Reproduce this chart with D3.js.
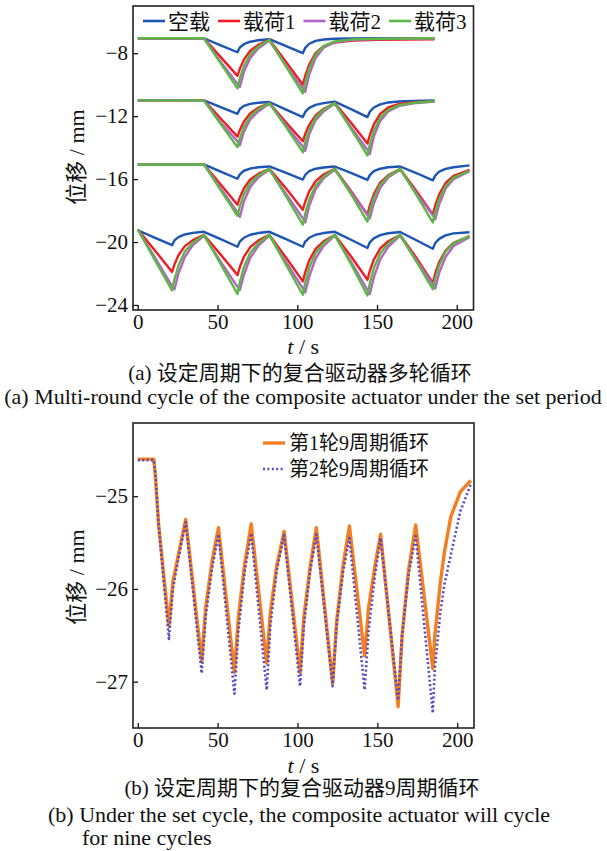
<!DOCTYPE html>
<html>
<head>
<meta charset="utf-8">
<script src="https://cdn.jsdelivr.net/npm/d3@7"></script>
<style>
  body { margin: 0; background: #fff; }
  svg { display: block; }
  text { font-family: "Liberation Serif", "Times New Roman", "Noto Sans CJK SC", serif; fill: #111; }
</style>
</head>
<body>
<svg id="chart" width="607" height="851"></svg>
<script>
// ---- panel (a): four rounds, four load cases each ----
var seriesNames = ['空载', '载荷1', '载荷2', '载荷3'];
var seriesColors = ['#1c55b3', '#ee1d24', '#b463c6', '#5bb844'];

var tA = [0, 41.5, 52, 62.5, 64, 66.5, 70.5, 75.5, 82.5, 93, 103.5, 105, 107.5, 111.5, 116.5, 123.5, 135, 150, 186];
var emptyA = [-7.05, -7.05, -7.5, -7.94, -7.64, -7.43, -7.27, -7.18, -7.11, -7.55, -8.0, -7.66, -7.4, -7.22, -7.13, -7.08, -7.06, -7.05, -7.05];
var load1A = [-7.05, -7.05, -8.25, -9.44, -8.98, -8.41, -7.84, -7.47, -7.15, -8.55, -10.0, -9.43, -8.72, -8.0, -7.55, -7.33, -7.2, -7.15, -7.12];
var load2A = [-7.05, -7.05, -8.55, -9.95, -10.15, -9.2, -8.3, -7.7, -7.2, -8.8, -10.25, -10.45, -9.35, -8.3, -7.65, -7.3, -7.15, -7.1, -7.07];
var load3A = [-7.05, -7.05, -8.65, -10.23, -9.6, -8.83, -8.07, -7.58, -7.15, -8.85, -10.55, -9.85, -8.98, -8.12, -7.55, -7.25, -7.12, -7.08, -7.05];

var tB = [0, 41.5, 52, 62.5, 64, 66.5, 70.5, 75.5, 82.5, 93, 103.5, 105, 107.5, 111.5, 116.5, 123.5, 134, 144, 145.5, 148, 152, 157, 164, 173, 186];
var emptyB = [-11.0, -11.0, -11.42, -11.85, -11.55, -11.35, -11.22, -11.15, -11.1, -11.58, -12.06, -11.73, -11.47, -11.28, -11.17, -11.08, -11.57, -12.06, -11.72, -11.45, -11.25, -11.13, -11.07, -11.03, -11.0];
var load1B = [-11.0, -11.0, -12.15, -13.3, -12.88, -12.35, -11.82, -11.47, -11.17, -12.4, -13.6, -13.12, -12.55, -11.95, -11.55, -11.17, -12.45, -13.74, -13.2, -12.53, -11.86, -11.45, -11.22, -11.12, -11.05];
var load2B = [-11.0, -11.0, -12.4, -13.6, -13.85, -13.0, -12.2, -11.7, -11.2, -12.6, -13.95, -14.2, -13.15, -12.25, -11.7, -11.2, -12.75, -14.15, -14.4, -13.3, -12.3, -11.7, -11.35, -11.18, -11.07];
var load3B = [-11.0, -11.0, -12.5, -13.97, -13.41, -12.71, -12.01, -11.56, -11.17, -12.7, -14.29, -13.65, -12.87, -12.1, -11.6, -11.17, -12.85, -14.5, -13.8, -12.95, -12.1, -11.6, -11.3, -11.15, -11.05];

var tC = [0, 41.5, 52, 62.5, 64, 66.5, 70.5, 75.5, 82.5, 93, 103.5, 105, 107.5, 111.5, 116.5, 123.5, 134, 144, 145.5, 148, 152, 157, 164.5, 175, 185, 186.5, 189, 193, 198, 208];
var emptyC = [-15.07, -15.07, -15.52, -15.98, -15.7, -15.47, -15.33, -15.25, -15.2, -15.6, -16.03, -15.74, -15.5, -15.34, -15.26, -15.2, -15.62, -16.05, -15.75, -15.5, -15.34, -15.25, -15.2, -15.63, -16.08, -15.78, -15.52, -15.35, -15.25, -15.13];
var load1C = [-15.07, -15.07, -16.35, -17.63, -17.17, -16.6, -16.03, -15.67, -15.35, -16.6, -17.95, -17.43, -16.78, -16.13, -15.71, -15.35, -16.8, -18.27, -17.69, -16.96, -16.23, -15.76, -15.35, -16.8, -18.25, -17.68, -16.97, -16.25, -15.8, -15.42];
var load2C = [-15.07, -15.07, -16.6, -18.1, -18.4, -17.45, -16.5, -15.9, -15.4, -16.95, -18.5, -18.75, -17.7, -16.65, -15.95, -15.4, -16.9, -18.25, -18.5, -17.55, -16.55, -15.9, -15.4, -16.95, -18.3, -18.55, -17.6, -16.6, -16.0, -15.5];
var load3C = [-15.07, -15.07, -16.7, -18.33, -17.73, -16.99, -16.24, -15.77, -15.35, -17.1, -18.9, -18.19, -17.3, -16.42, -15.85, -15.35, -17.0, -18.7, -18.03, -17.19, -16.36, -15.82, -15.35, -17.05, -18.76, -18.1, -17.27, -16.44, -15.91, -15.47];

var tD = [0, 10.5, 21.5, 23, 25.5, 29.5, 34.5, 41.5, 52, 62.5, 64, 66.5, 70.5, 75.5, 82.5, 93, 103.5, 105, 107.5, 111.5, 116.5, 123.5, 134, 144, 145.5, 148, 152, 157, 164.5, 175, 185, 186.5, 189, 193, 198, 208];
var emptyD = [-19.25, -19.72, -20.2, -19.9, -19.69, -19.52, -19.42, -19.35, -19.82, -20.3, -19.97, -19.73, -19.54, -19.43, -19.35, -19.82, -20.3, -19.97, -19.73, -19.54, -19.43, -19.35, -19.87, -20.38, -20.02, -19.77, -19.56, -19.44, -19.36, -19.9, -20.43, -20.06, -19.8, -19.58, -19.45, -19.38];
var load1D = [-19.2, -20.5, -21.9, -21.43, -20.84, -20.26, -19.88, -19.55, -20.8, -22.1, -21.59, -20.95, -20.32, -19.91, -19.55, -21.0, -22.5, -21.91, -21.17, -20.44, -19.96, -19.55, -20.95, -22.4, -21.83, -21.12, -20.41, -19.95, -19.55, -21.05, -22.6, -22.0, -21.27, -20.54, -20.06, -19.62];
var load2D = [-19.2, -20.95, -22.8, -23.0, -22.0, -20.95, -20.2, -19.6, -21.25, -22.85, -23.05, -22.1, -21.0, -20.25, -19.6, -21.3, -22.95, -23.2, -22.2, -21.05, -20.25, -19.6, -21.3, -23.05, -23.3, -22.25, -21.1, -20.3, -19.6, -21.2, -22.7, -22.95, -21.95, -20.95, -20.25, -19.7];
var load3D = [-19.2, -21.1, -23.07, -22.37, -21.49, -20.61, -20.04, -19.55, -21.4, -23.3, -22.55, -21.61, -20.68, -20.08, -19.55, -21.45, -23.35, -22.59, -21.64, -20.69, -20.08, -19.55, -21.45, -23.4, -22.63, -21.67, -20.71, -20.09, -19.55, -21.3, -23.0, -22.32, -21.47, -20.62, -20.08, -19.62];

var xTicks = [0, 50, 100, 150, 200];
var yTicksA = [-8, -12, -16, -20, -24];

// ---- panel (b): two rounds of nine cycles ----
var nineNames = ['第1轮9周期循环', '第2轮9周期循环'];
var tNine = [0, 10, 11, 13, 19.5, 22, 26, 30, 40, 42.5, 46.5, 50.5, 60.5, 63, 67, 71, 80.7, 83, 87, 91.6, 101.6, 104, 108, 111.8, 122, 124.5, 128.5, 132.5, 142, 144.5, 148.5, 152, 163, 165.5, 169.5, 174, 184.7, 186, 189.5, 192, 196, 202, 208.5];
var round1 = [-24.6, -24.6, -24.78, -25.3, -26.4, -25.92, -25.58, -25.25, -26.78, -26.2, -25.7, -25.34, -26.9, -26.3, -25.72, -25.3, -26.8, -26.25, -25.75, -25.38, -26.9, -26.3, -25.75, -25.34, -27.02, -26.35, -25.75, -25.32, -26.72, -26.2, -25.75, -25.41, -27.27, -26.5, -25.8, -25.31, -26.86, -26.5, -25.92, -25.6, -25.22, -24.95, -24.83];
var round2 = [-24.61, -24.61, -24.75, -25.3, -26.54, -26.0, -25.62, -25.28, -26.91, -26.3, -25.78, -25.41, -27.13, -26.45, -25.8, -25.4, -27.09, -26.4, -25.8, -25.42, -27.05, -26.4, -25.8, -25.41, -27.05, -26.4, -25.82, -25.45, -27.09, -26.45, -25.85, -25.45, -27.2, -26.5, -25.85, -25.43, -27.34, -26.85, -26.24, -25.95, -25.63, -25.16, -24.87];
var yTicksB = [-25, -26, -27];

var svg = d3.select('#chart');

function zip(t, v) { return t.map((d, i) => [d, v[i]]); }

function panel(box, yDomain, yTicks) {
    let x = d3.scaleLinear().domain([-3, 210.5]).range([box.left, box.right]);
    let y = d3.scaleLinear().domain(yDomain).range([box.bottom, box.top]);
    let g = svg.append('g');

    g.append('g')
        .attr('transform', `translate(0 ${box.bottom})`)
        .call(d3.axisBottom(x).tickValues(xTicks).tickSize(-5).tickPadding(4))
        .call(a => a.select('.domain').remove());
    g.append('g')
        .attr('transform', `translate(${box.left} 0)`)
        .call(d3.axisLeft(y).tickValues(yTicks).tickFormat(d3.format('d')).tickSize(-5).tickPadding(5))
        .call(a => a.select('.domain').remove());
    g.selectAll('.tick line').attr('stroke', '#111').attr('stroke-width', 1.3);
    g.selectAll('.tick text').attr('font-size', 21).attr('fill', '#111')
        .style('font-family', '"Liberation Serif", "Times New Roman", serif');

    let plot = g.append('g');
    g.append('rect')
        .attr('x', box.left).attr('y', box.top)
        .attr('width', box.right - box.left).attr('height', box.bottom - box.top)
        .attr('fill', 'none').attr('stroke', '#222').attr('stroke-width', 1.6);

    return { x, y, g, plot };
}

function axisTitles(box, yMid, xLabelY) {
    svg.append('text')
        .attr('transform', `translate(76 ${yMid}) rotate(-90)`)
        .attr('text-anchor', 'middle').attr('dominant-baseline', 'central')
        .attr('font-size', 22)
        .text('位移 / mm');
    let xl = svg.append('text')
        .attr('x', (box.left + box.right) / 2).attr('y', xLabelY)
        .attr('text-anchor', 'middle').attr('font-size', 22);
    xl.append('tspan').attr('font-style', 'italic').text('t');
    xl.append('tspan').text(' / s');
}

// ---------- (a) ----------
var boxA = { left: 133, right: 473.5, top: 6, bottom: 310 };
var pA = panel(boxA, [-24.32, -5.0], yTicksA);
var lineA = d3.line().x(d => pA.x(d[0])).y(d => pA.y(d[1]));

var groups = [
    [tA, [emptyA, load1A, load2A, load3A]],
    [tB, [emptyB, load1B, load2B, load3B]],
    [tC, [emptyC, load1C, load2C, load3C]],
    [tD, [emptyD, load1D, load2D, load3D]]
];

groups.forEach(([t, vals]) => {
    vals.forEach((v, i) => {
        pA.plot.append('path')
            .datum(zip(t, v))
            .attr('d', lineA)
            .attr('fill', 'none')
            .attr('stroke', seriesColors[i])
            .attr('stroke-width', 2.4)
            .attr('stroke-linejoin', 'round');
    });
});

// legend (a)
var legA = svg.append('g');
var lx = 143;
seriesNames.forEach((name, i) => {
    legA.append('line')
        .attr('x1', lx).attr('x2', lx + 22).attr('y1', 21).attr('y2', 21)
        .attr('stroke', seriesColors[i]).attr('stroke-width', 2.6);
    let txt = legA.append('text')
        .attr('x', lx + 25).attr('y', 28.5)
        .attr('font-size', 21)
        .text(name);
    lx += 25 + txt.node().getComputedTextLength() + 8;
});

axisTitles(boxA, 157, 354);

svg.append('text').attr('x', 300).attr('y', 380).attr('text-anchor', 'middle').attr('font-size', 21)
    .text('(a)  设定周期下的复合驱动器多轮循环');
svg.append('text').attr('x', 303).attr('y', 404).attr('text-anchor', 'middle').attr('font-size', 22)
    .text('(a)  Multi-round cycle of the composite actuator under the set period');

// ---------- (b) ----------
var boxB = { left: 133, right: 474, top: 423, bottom: 728 };
var pB = panel(boxB, [-27.5, -24.21], yTicksB);
var lineB = d3.line().x(d => pB.x(d[0])).y(d => pB.y(d[1]));

var nineStyles = [
    { color: '#f57f20', width: 3.4, dash: null },
    { color: '#5848c2', width: 2.6, dash: '2,2.4' }
];

[round1, round2].forEach((v, i) => {
    pB.plot.append('path')
        .datum(zip(tNine, v))
        .attr('d', lineB)
        .attr('fill', 'none')
        .attr('stroke', nineStyles[i].color)
        .attr('stroke-width', nineStyles[i].width)
        .attr('stroke-dasharray', nineStyles[i].dash)
        .attr('stroke-linejoin', 'round');
});

var legB = svg.append('g');
nineNames.forEach((name, i) => {
    let yy = 443 + i * 26;
    legB.append('line')
        .attr('x1', 263).attr('x2', 285).attr('y1', yy).attr('y2', yy)
        .attr('stroke', nineStyles[i].color)
        .attr('stroke-width', nineStyles[i].width)
        .attr('stroke-dasharray', nineStyles[i].dash);
    legB.append('text')
        .attr('x', 289).attr('y', yy + 7)
        .attr('font-size', 20)
        .text(name);
});

axisTitles(boxB, 577, 773);

svg.append('text').attr('x', 302).attr('y', 795).attr('text-anchor', 'middle').attr('font-size', 21)
    .text('(b)  设定周期下的复合驱动器9周期循环');
svg.append('text').attr('x', 48).attr('y', 822).attr('font-size', 22)
    .text('(b)  Under the set cycle, the composite actuator will cycle');
svg.append('text').attr('x', 82).attr('y', 845).attr('font-size', 22)
    .text('for nine cycles');
</script>
</body>
</html>
